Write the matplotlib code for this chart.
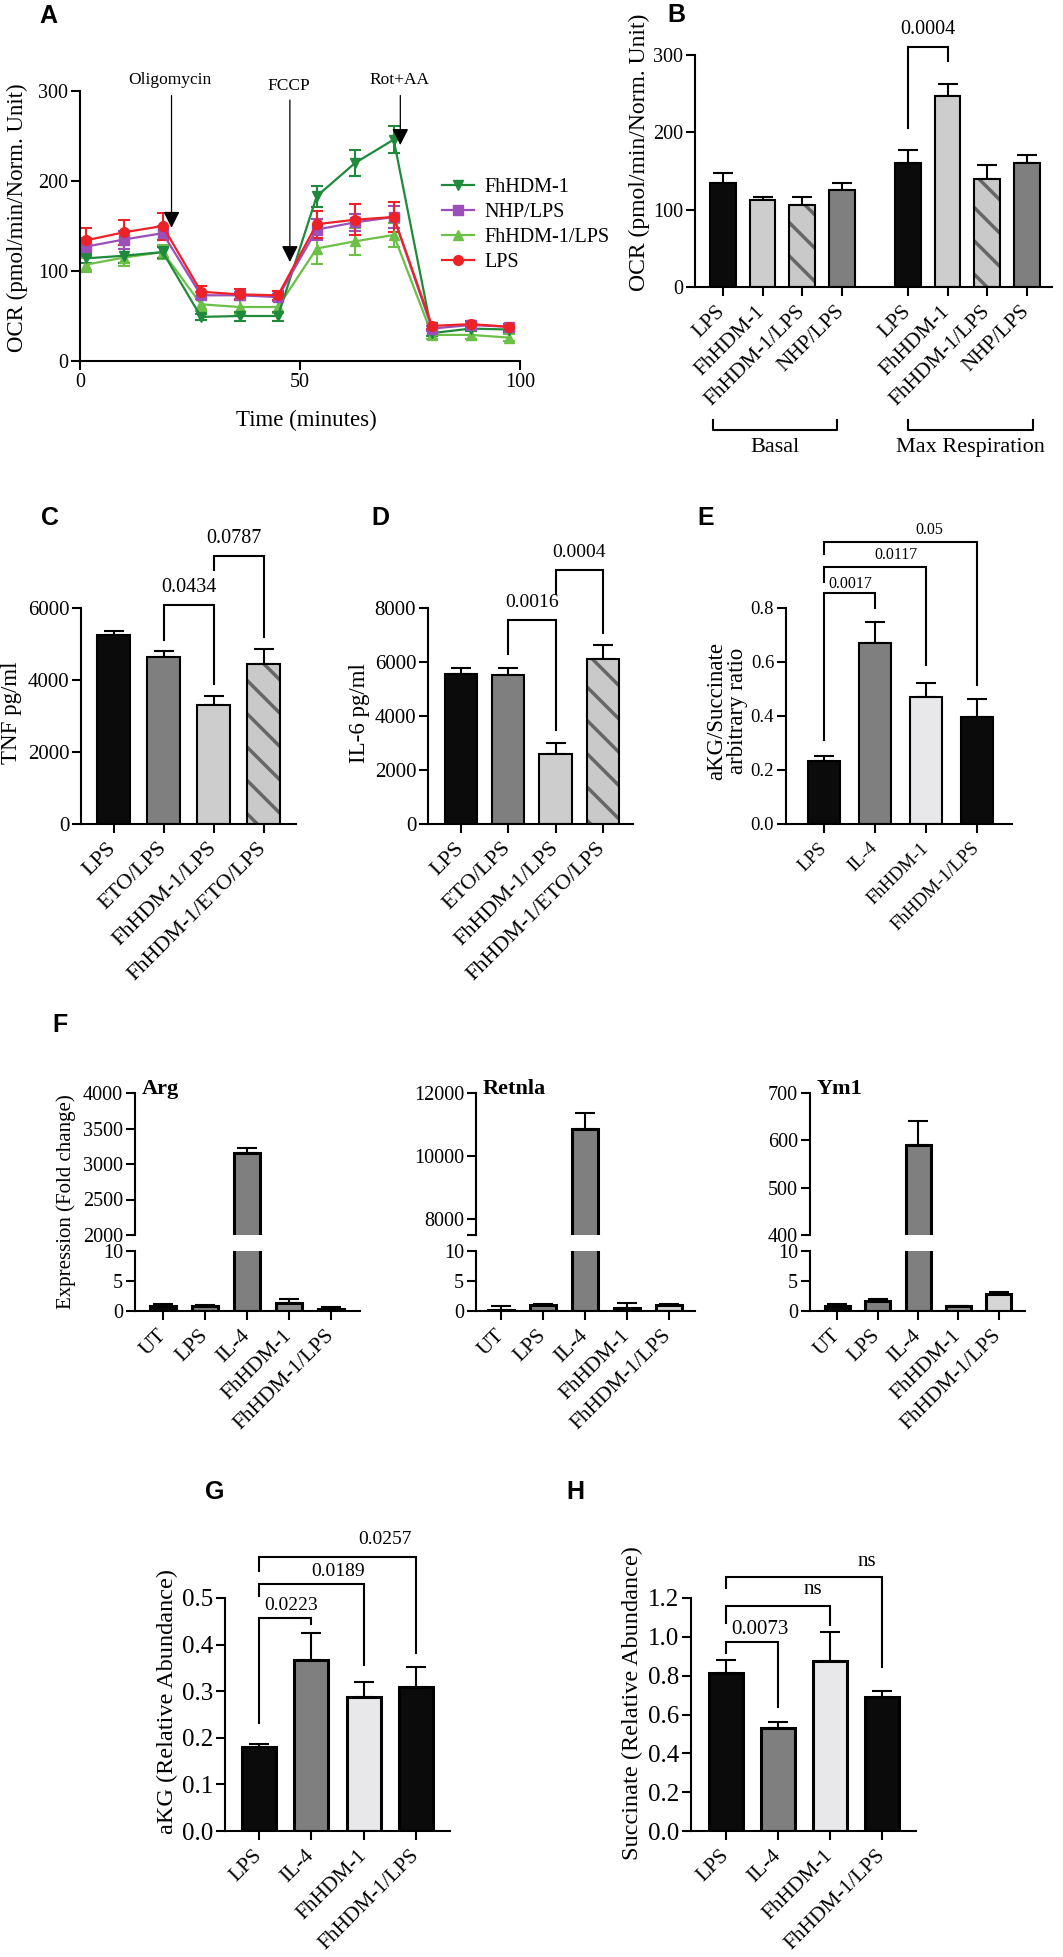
import numpy as np
import matplotlib
matplotlib.use("Agg")
import matplotlib.pyplot as plt
from matplotlib.lines import Line2D
from matplotlib.ticker import FormatStrFormatter
from matplotlib.transforms import blended_transform_factory

plt.rcParams['font.family'] = ['Liberation Serif', 'DejaVu Serif']
plt.rcParams['hatch.linewidth'] = 2.5
plt.rcParams['axes.linewidth'] = 1.5

W, H = 1063, 1957

# ---------------- data ----------------
# A: OCR trace (Seahorse)
a_time = [1.3, 10, 18.8, 27.5, 36.3, 45, 53.8, 62.5, 71.3, 80, 88.8, 97.5]
a_fh = [114, 117, 121, 49, 50, 50, 183, 220, 246, 31, 36, 35]
a_fh_err = [5, 8, 6, 3, 5, 5, 12, 14, 15, 3, 3, 3]
a_nhp = [127, 135, 142, 73, 73, 71, 146, 154, 160, 36, 40, 38]
a_nhp_err = [10, 10, 8, 4, 4, 4, 12, 9, 12, 3, 3, 3]
a_fhlps = [107, 115, 121, 63, 60, 60, 125, 133, 140, 29, 29, 26]
a_fhlps_err = [8, 9, 8, 7, 8, 7, 17, 15, 13, 4, 4, 4]
a_lps = [134, 143, 150, 77, 74, 73, 152, 157, 160, 39, 41, 38]
a_lps_err = [14, 14, 15, 6, 6, 5, 15, 17, 17, 3, 3, 3]
a_injections = ['Oligomycin', 'FCCP', 'Rot+AA']
a_inj_time = [20.8, 47.7, 72.8]

# B: OCR bars
b_labels = ['LPS', 'FhHDM-1', 'FhHDM-1/LPS', 'NHP/LPS']
b_groups = ['Basal', 'Max Respiration']
b_basal = [134, 113, 106, 126]
b_basal_err = [14, 3, 10, 9]
b_max = [160, 247, 140, 160]
b_max_err = [17, 16, 18, 11]

# C, D: cytokines
cd_labels = ['LPS', 'ETO/LPS', 'FhHDM-1/LPS', 'FhHDM-1/ETO/LPS']
c_tnf = [5260, 4630, 3310, 4435]
c_tnf_err = [100, 175, 250, 425]
d_il6 = [5570, 5510, 2610, 6100]
d_il6_err = [220, 280, 390, 520]

# E, G, H: metabolites
egh_labels = ['LPS', 'IL-4', 'FhHDM-1', 'FhHDM-1/LPS']
e_ratio = [0.232, 0.672, 0.470, 0.395]
e_ratio_err = [0.021, 0.077, 0.053, 0.069]
g_akg = [0.181, 0.366, 0.287, 0.309]
g_akg_err = [0.006, 0.059, 0.033, 0.042]
h_succ = [0.812, 0.529, 0.876, 0.692]
h_succ_err = [0.070, 0.034, 0.150, 0.030]

# F: gene expression
f_labels = ['UT', 'LPS', 'IL-4', 'FhHDM-1', 'FhHDM-1/LPS']
f_genes = ['Arg', 'Retnla', 'Ym1']
arg_vals = [0.9, 0.9, 3150, 1.4, 0.3]
arg_err = [0.3, 0.15, 75, 0.6, 0.3]
retnla_vals = [0.2, 1.0, 10870, 0.5, 1.0]
retnla_err = [0.6, 0.2, 500, 0.8, 0.2]
ym1_vals = [0.9, 1.7, 590, 0.8, 2.9]
ym1_err = [0.2, 0.3, 50, 0.1, 0.2]

# significance brackets: (left bar, right bar, text)
c_sig = [(1, 2, '0.0434'), (2, 3, '0.0787')]
d_sig = [(1, 2, '0.0016'), (2, 3, '0.0004')]
e_sig = [(0, 1, '0.0017'), (0, 2, '0.0117'), (0, 3, '0.05')]
g_sig = [(0, 1, '0.0223'), (0, 2, '0.0189'), (0, 3, '0.0257')]
h_sig = [(0, 1, '0.0073'), (0, 2, 'ns'), (0, 3, 'ns')]

BLACK = '#0b0b0b'
GREY = '#7f7f7f'
LIGHT = '#cdcdcd'
PALE = '#e8e8ea'
HATCH_FILL = '#c9c9c9'
HATCH_LINE = '#666666'

fig = plt.figure(figsize=(W / 100, H / 100), dpi=100)


def add_ax(x0, x1, ytop, ybot):
    return fig.add_axes([x0 / W, 1 - ybot / H, (x1 - x0) / W, (ybot - ytop) / H])


def style(ax, fs=14.5):
    ax.spines['top'].set_visible(False)
    ax.spines['right'].set_visible(False)
    ax.tick_params(direction='out', length=6.5, width=1.5, labelsize=fs, pad=2)


def bars(ax, pos, vals, errs, colors, width, hatched=(), lw=1.5):
    for i, (p, v, c) in enumerate(zip(pos, vals, colors)):
        if i in hatched:
            ax.bar(p, v, width, color=HATCH_FILL, edgecolor=HATCH_LINE,
                   hatch='\\', linewidth=0, zorder=2)
            ax.bar(p, v, width, fill=False, edgecolor='k', linewidth=lw, zorder=3)
        else:
            ax.bar(p, v, width, color=c, edgecolor='k', linewidth=lw, zorder=2)
    ax.errorbar(pos, vals, yerr=[np.zeros(len(vals)), errs], fmt='none',
                ecolor='k', elinewidth=1.5, capsize=7, capthick=1.5, zorder=1.5)


def xlabels(ax, pos, labels, fs):
    ax.set_xticks(pos)
    ax.set_xticklabels(labels, rotation=45, ha='right', va='center',
                       rotation_mode='anchor', fontsize=fs)
    ax.tick_params(axis='x', pad=9)


def bracket(ax, x1, x2, ytop, yl, yr, txt, tx, ty, fs):
    ax.plot([x1, x1, x2, x2], [yl, ytop, ytop, yr], color='k', lw=1.5,
            clip_on=False, solid_joinstyle='miter')
    ax.text(tx, ty, txt, ha='center', va='center', fontsize=fs, clip_on=False)


def letter(x, y, s):
    fig.text(x / W, 1 - y / H, s, fontsize=18, fontweight='bold',
             family='Liberation Sans', ha='center', va='center')


def ylab(x, y, s, fs, **kw):
    fig.text(x / W, 1 - y / H, s, fontsize=fs, rotation=90,
             ha='center', va='center', **kw)


# ---------------- A ----------------
ax = add_ax(80, 520, 91, 361)
style(ax)
series = [
    (a_fhlps, a_fhlps_err, '#6cbf47', '^', 'FhHDM-1/LPS'),
    (a_fh, a_fh_err, '#1f8a3b', 'v', 'FhHDM-1'),
    (a_nhp, a_nhp_err, '#9b4fb8', 's', 'NHP/LPS'),
    (a_lps, a_lps_err, '#ec2227', 'o', 'LPS'),
]
for vals, err, col, mk, lab in series:
    ax.errorbar(a_time, vals, yerr=err, color=col, marker=mk, ms=7, lw=1.6,
                capsize=4.5, capthick=1.5, elinewidth=1.5)
ax.set_xlim(0, 100)
ax.set_ylim(0, 300)
ax.set_xticks([0, 50, 100])
ax.set_yticks([0, 100, 200, 300])
arrow_top = [295, 290, 295]
arrow_tip = [148, 110, 240]
text_y = [312, 305, 312]
for name, t, y0, y1, ty in zip(a_injections, a_inj_time, arrow_top, arrow_tip, text_y):
    ax.annotate('', xy=(t, y1), xytext=(t, y0), annotation_clip=False,
                arrowprops=dict(arrowstyle='-|>', color='k', lw=0.9,
                                mutation_scale=25, shrinkA=0, shrinkB=0))
    ax.text(t - 0.3, ty, name, ha='center', va='center', fontsize=12.5, clip_on=False)
order = [1, 2, 0, 3]
handles = [Line2D([0], [0], color=series[i][2], marker=series[i][3], ms=7, lw=1.6) for i in order]
ax.legend(handles, [series[i][4] for i in order], loc='upper left',
          bbox_to_anchor=(0.823, 0.678), frameon=False, fontsize=14.5,
          handlelength=1.6, labelspacing=0.3, borderpad=0, borderaxespad=0,
          handletextpad=0.5)
ylab(17.5, 218, 'OCR (pmol/min/Norm. Unit)', 16.5)
fig.text(306 / W, 1 - 420 / H, 'Time (minutes)', fontsize=16.5, ha='center', va='center')
letter(48, 16, 'A')

# ---------------- B ----------------
ax = add_ax(695, 1052, 55, 287)
style(ax)
b_pos = [0, 1, 2, 3, 4.66, 5.66, 6.66, 7.66]
b_cols = [BLACK, LIGHT, None, GREY] * 2
bars(ax, b_pos, b_basal + b_max, b_basal_err + b_max_err, b_cols, 0.65, hatched=(2, 6))
ax.set_xlim(-0.70, 8.29)
ax.set_ylim(0, 300)
ax.set_yticks([0, 100, 200, 300])
xlabels(ax, b_pos, b_labels * 2, 15.5)
bracket(ax, 4.66, 5.66, 310, 206, 292, '0.0004', 5.16, 333, 14.5)
tr = blended_transform_factory(ax.transData, ax.transAxes)
for (x1, x2), g in zip([(-0.25, 2.88), (4.67, 7.82)], b_groups):
    ax.plot([x1, x1, x2, x2], [-0.573, -0.616, -0.616, -0.573], color='k', lw=1.5,
            transform=tr, clip_on=False)
    ax.text((x1 + x2) / 2, -0.69, g, transform=tr, ha='center', va='center', fontsize=16)
ylab(639, 152, 'OCR (pmol/min/Norm. Unit)', 17)
letter(676, 15, 'B')

# ---------------- C ----------------
ax = add_ax(81, 296, 608, 824)
style(ax, 15)
bars(ax, range(4), c_tnf, c_tnf_err, [BLACK, GREY, LIGHT, None], 0.65, hatched=(3,))
ax.set_xlim(-0.65, 3.65)
ax.set_ylim(0, 6000)
ax.set_yticks([0, 2000, 4000, 6000])
xlabels(ax, range(4), cd_labels, 16)
c_lay = [(6074, 5120, 3898, 1.5, 6565), (7444, 7046, 5194, 2.4, 7926)]
for (i, j, txt), (top, yl, yr, tx, ty) in zip(c_sig, c_lay):
    bracket(ax, i, j, top, yl, yr, txt, tx, ty, 14.5)
ylab(11, 713, 'TNF pg/ml', 16.5)
letter(50, 518, 'C')

# ---------------- D ----------------
ax = add_ax(428, 633, 608, 824)
style(ax, 15)
bars(ax, range(4), d_il6, d_il6_err, [BLACK, GREY, LIGHT, None], 0.68, hatched=(3,))
ax.set_xlim(-0.7, 3.64)
ax.set_ylim(0, 8000)
ax.set_yticks([0, 2000, 4000, 6000, 8000])
xlabels(ax, range(4), cd_labels, 16)
d_lay = [(7543, 6309, 3494, 1.5, 8222), (9395, 8531, 7074, 2.5, 10050)]
for (i, j, txt), (top, yl, yr, tx, ty) in zip(d_sig, d_lay):
    bracket(ax, i, j, top, yl, yr, txt, tx, ty, 14)
ylab(360, 713, 'IL-6 pg/ml', 16.5)
letter(380, 518, 'D')

# ---------------- E ----------------
ax = add_ax(786, 1012, 608, 824)
style(ax, 13.5)
bars(ax, range(4), e_ratio, e_ratio_err, [BLACK, GREY, PALE, BLACK], 0.63)
ax.set_xlim(-0.75, 3.69)
ax.set_ylim(0, 0.8)
ax.set_yticks([0, 0.2, 0.4, 0.6, 0.8])
ax.yaxis.set_major_formatter(FormatStrFormatter('%.1f'))
xlabels(ax, range(4), egh_labels, 13.5)
e_lay = [(0.856, 0.31, 0.80, 0.51, 0.89), (0.952, 0.896, 0.588, 1.41, 0.995),
         (1.044, 1.0, 0.514, 2.06, 1.09)]
for (i, j, txt), (top, yl, yr, tx, ty) in zip(e_sig, e_lay):
    bracket(ax, i, j, top, yl, yr, txt, tx, ty, 11.5)
ylab(727, 711, 'aKG/Succinate\narbitrary ratio', 16.5, linespacing=1.0)
letter(706, 518, 'E')

# ---------------- F ----------------
f_vals = [arg_vals, retnla_vals, ym1_vals]
f_errs = [arg_err, retnla_err, ym1_err]
f_x = [(135, 360), (476, 695), (810, 1025)]
f_xlim = [(-0.67, 4.69), (-0.6, 4.63), (-0.68, 4.65)]
f_top = [(2000, 4000), (7500, 12000), (400, 700)]
f_top_ticks = [[2000, 2500, 3000, 3500, 4000], [7500, 8000, 10000, 12000], [400, 500, 600, 700]]
f_top_ticklabels = [['2000', '2500', '3000', '3500', '4000'], ['', '8000', '10000', '12000'],
                    ['400', '500', '600', '700']]
f_cols = [BLACK, GREY, GREY, '#8c8c8c', '#d6d6d6']
for k in range(3):
    x0, x1 = f_x[k]
    top = add_ax(x0, x1, 1093, 1235)
    bot = add_ax(x0, x1, 1251, 1311)
    for a in (top, bot):
        style(a, 14.5)
        bars(a, range(5), f_vals[k], f_errs[k], f_cols, 0.62, lw=2.2)
        a.set_xlim(*f_xlim[k])
    top.spines['bottom'].set_visible(False)
    top.tick_params(axis='x', bottom=False, labelbottom=False)
    top.set_ylim(*f_top[k])
    top.set_yticks(f_top_ticks[k])
    top.set_yticklabels(f_top_ticklabels[k])
    bot.set_ylim(0, 10)
    bot.set_yticks([0, 5, 10])
    xlabels(bot, range(5), f_labels, 15.5)
    top.text(0.03, 1.03, f_genes[k], transform=top.transAxes, fontsize=16,
             fontweight='bold', ha='left', va='center')
ylab(66, 1202, 'Expression (Fold change)', 15)
letter(60, 1025, 'F')

# ---------------- G ----------------
ax = add_ax(225, 450, 1598, 1831)
style(ax, 18)
bars(ax, range(4), g_akg, g_akg_err, [BLACK, GREY, PALE, BLACK], 0.65, lw=2.2)
ax.set_xlim(-0.65, 3.65)
ax.set_ylim(0, 0.5)
ax.set_yticks([0, 0.1, 0.2, 0.3, 0.4, 0.5])
ax.yaxis.set_major_formatter(FormatStrFormatter('%.1f'))
xlabels(ax, range(4), egh_labels, 15.5)
g_lay = [(0.457, 0.231, 0.445, 0.62, 0.483), (0.529, 0.504, 0.357, 1.51, 0.557),
         (0.588, 0.559, 0.383, 2.41, 0.625)]
for (i, j, txt), (top, yl, yr, tx, ty) in zip(g_sig, g_lay):
    bracket(ax, i, j, top, yl, yr, txt, tx, ty, 14)
ylab(167, 1702, 'aKG (Relative Abundance)', 17.5)
letter(215, 1492, 'G')

# ---------------- H ----------------
ax = add_ax(691, 916, 1598, 1831)
style(ax, 18)
bars(ax, range(4), h_succ, h_succ_err, [BLACK, GREY, PALE, BLACK], 0.65, lw=2.2)
ax.set_xlim(-0.67, 3.65)
ax.set_ylim(0, 1.2)
ax.set_yticks([0, 0.2, 0.4, 0.6, 0.8, 1.0, 1.2])
ax.yaxis.set_major_formatter(FormatStrFormatter('%.1f'))
xlabels(ax, range(4), egh_labels, 15.5)
h_lay = [(0.973, 0.916, 0.641, 0.65, 1.04), (1.157, 1.071, 1.059, 1.67, 1.243),
         (1.308, 1.251, 0.844, 2.7, 1.389)]
for (i, j, txt), (top, yl, yr, tx, ty) in zip(h_sig, h_lay):
    bracket(ax, i, j, top, yl, yr, txt, tx, ty, 15)
ylab(632, 1703, 'Succinate (Relative Abundance)', 17.5)
letter(575, 1492, 'H')

fig.savefig('out.png', dpi=100)
